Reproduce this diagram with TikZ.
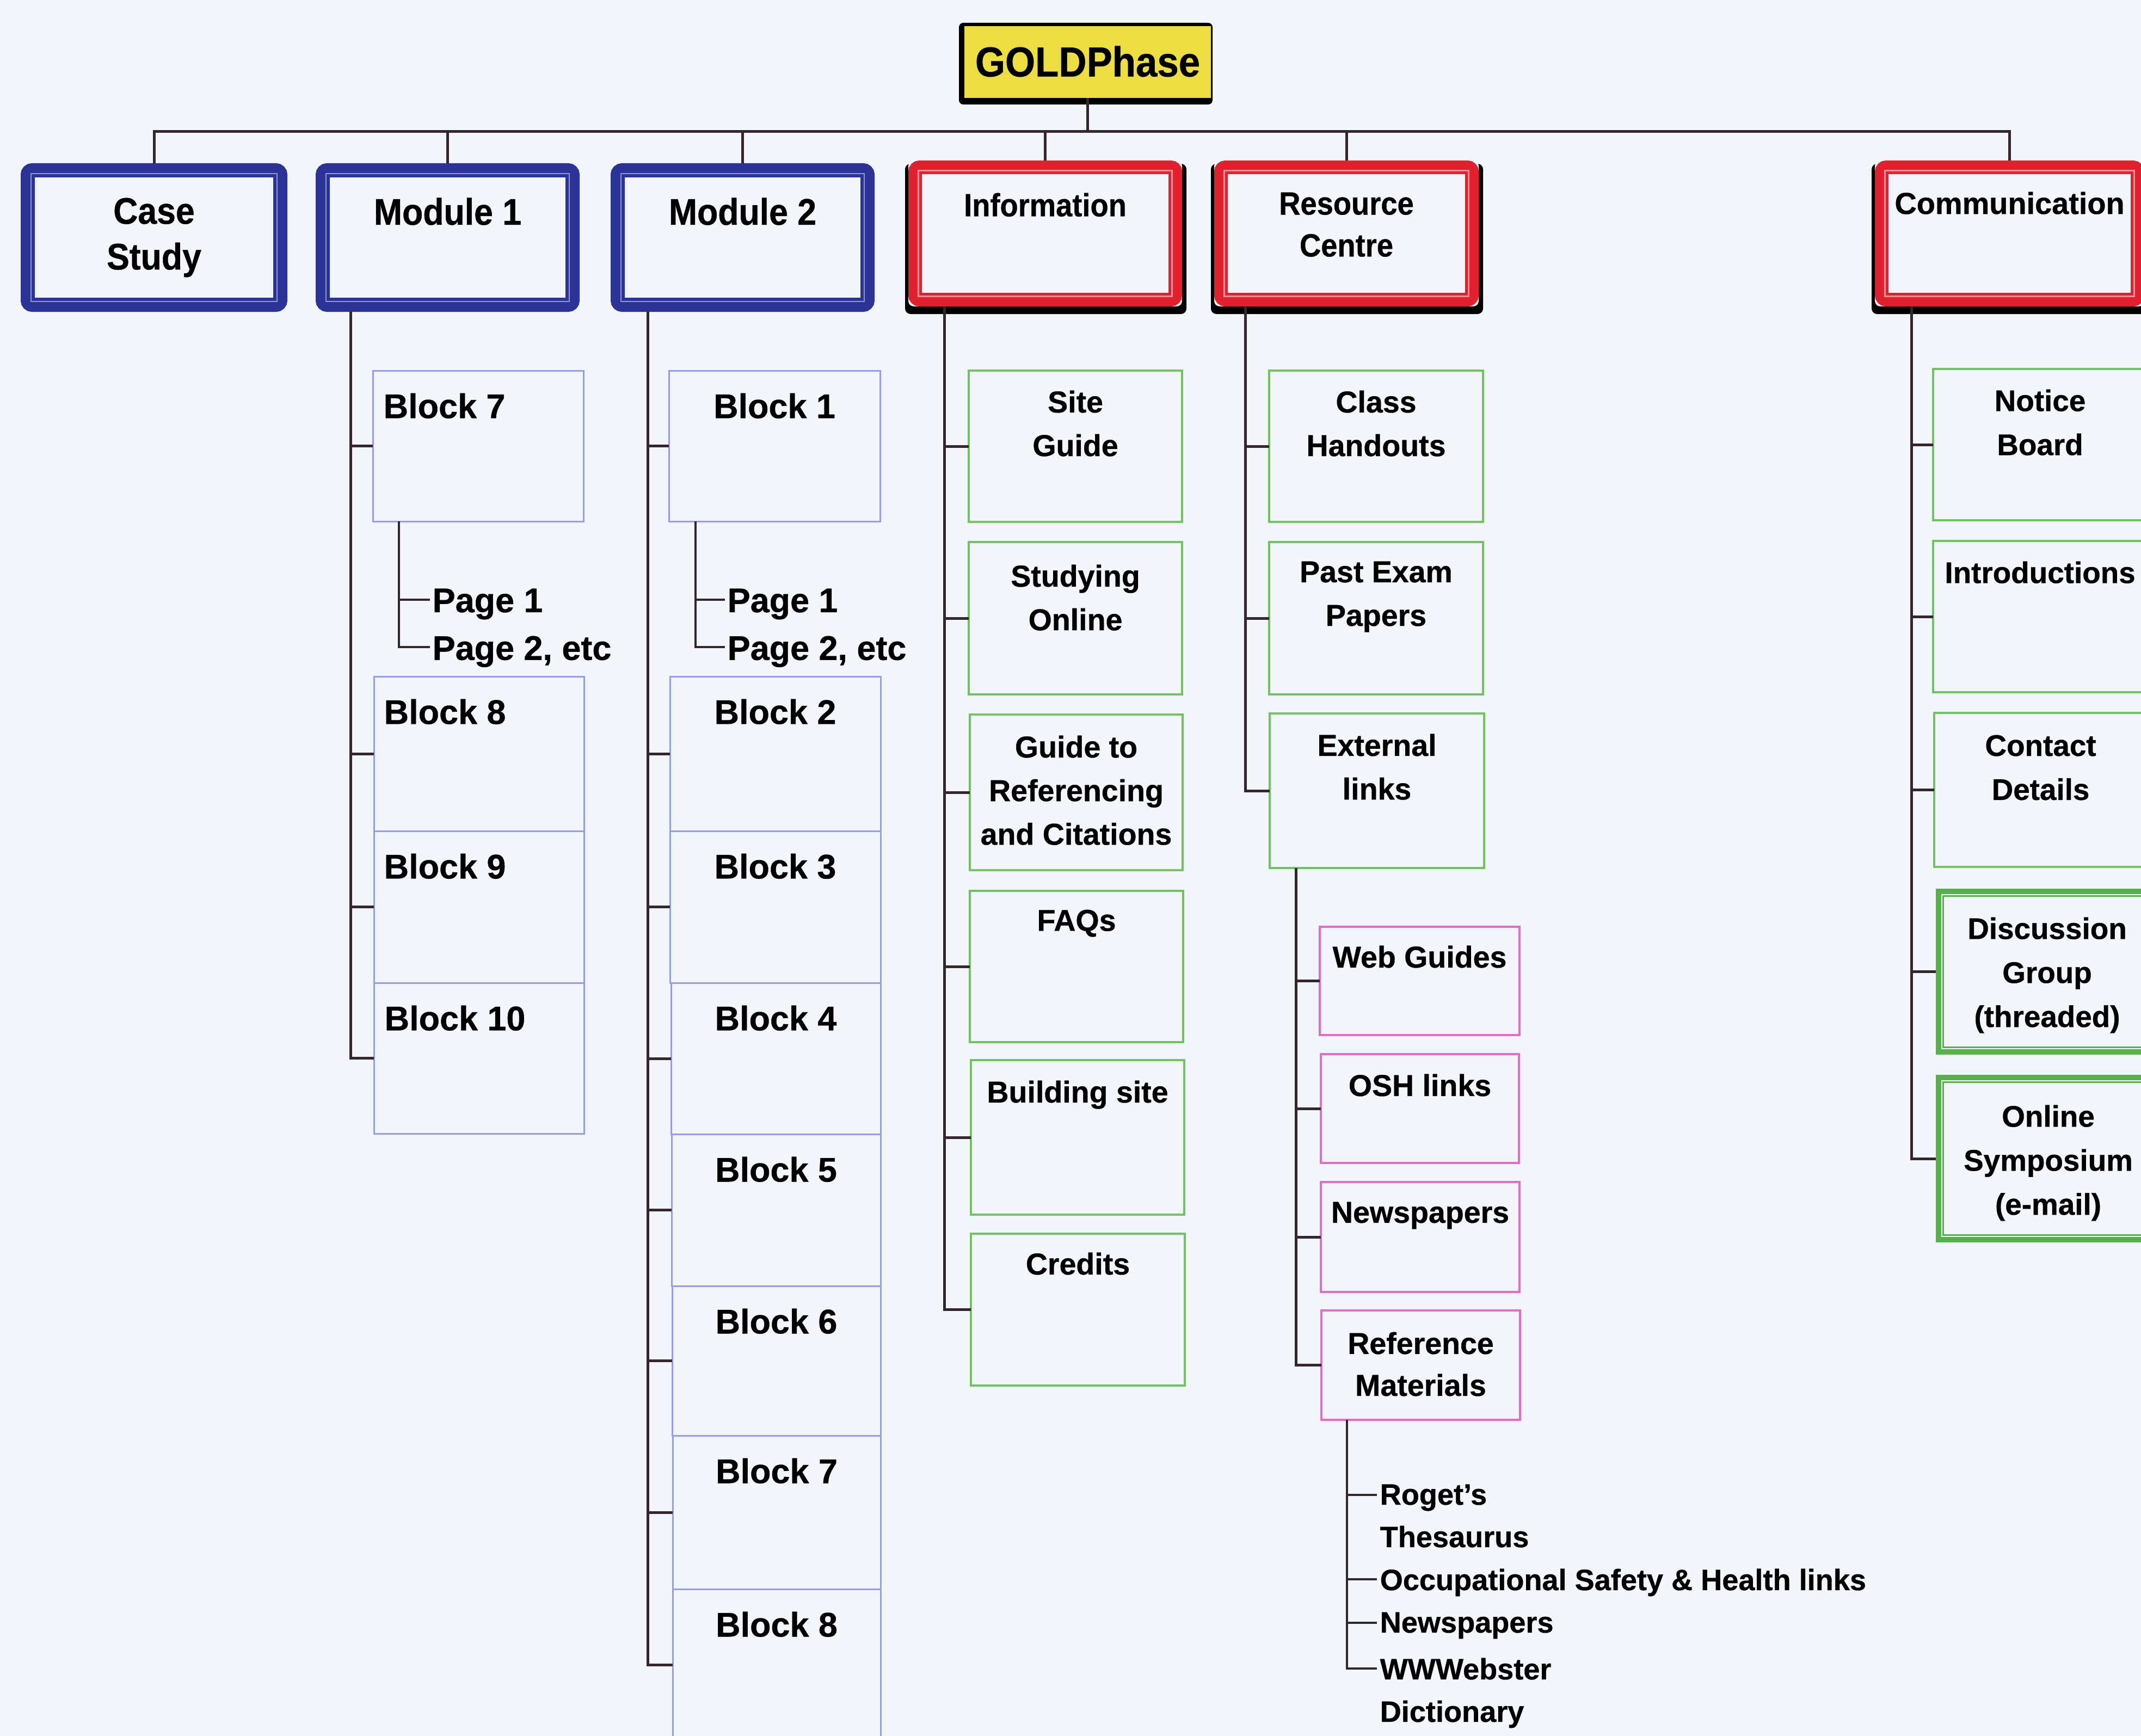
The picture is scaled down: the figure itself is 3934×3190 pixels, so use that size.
\documentclass[tikz,border=0pt]{standalone}
\usepackage{fontspec}
\setmainfont{Liberation Sans}[FakeBold=0.6]
\newfontfamily\narrowsans{Liberation Sans}[FakeStretch=0.92, FakeBold=0.6]
\usetikzlibrary{calc,fit}

\definecolor{paper}{RGB}{242,245,250}
\definecolor{linecol}{RGB}{52,38,46}
\definecolor{navyA}{RGB}{43,52,150}
\definecolor{navyGap}{RGB}{140,150,215}
\definecolor{redA}{RGB}{226,32,46}
\definecolor{redGap}{RGB}{242,140,150}
\definecolor{goldfill}{RGB}{236,222,64}
\definecolor{blockcol}{RGB}{150,156,234}
\definecolor{greencol}{RGB}{112,196,96}
\definecolor{greendark}{RGB}{84,178,72}
\definecolor{pinkcol}{RGB}{228,108,200}

% top-level module box: heavy navy frame with a thin light inner stripe
\newcommand{\navybox}[5]{%
  \node[fit={(#2,#3) (#4,#5)}, inner sep=0pt, outer sep=0pt] (#1) {};
  \draw[navyA, line width=2.6mm, rounded corners=0.8mm] (#2+13,#3+13) rectangle (#4-13,#5-13);
  \draw[navyGap, line width=0.22mm] (#2+19,#3+19) rectangle (#4-19,#5-19);
}
% top-level area box: heavy red frame with a black shadow
\newcommand{\redframe}[5]{%
  \fill[black, rounded corners=1mm] (#2-6,#3+6) rectangle (#4+8,#5+14);
  \node[fit={(#2,#3) (#4,#5)}, inner sep=0pt, outer sep=0pt, fill=paper, rounded corners=1mm] (#1) {};
  \draw[redA, line width=2.5mm, rounded corners=0.8mm] (#2+12.5,#3+12.5) rectangle (#4-12.5,#5-12.5);
  \draw[redGap, line width=0.22mm] (#2+18.5,#3+18.5) rectangle (#4-18.5,#5-18.5);
}
% interactive area: green double frame
\newcommand{\dblgreen}[5]{%
  \node[fit={(#2,#3) (#4,#5)}, inner sep=0pt, outer sep=0pt] (#1) {};
  \draw[greendark, line width=1mm] (#2+5,#3+5) rectangle (#4-5,#5-5);
  \draw[greendark, line width=0.35mm] (#2+13.5,#3+13.5) rectangle (#4-13.5,#5-13.5);
}

\tikzset{
  conn/.style={draw=linecol, line width=0.5mm},
  thinbox/.style={inner sep=0pt, outer sep=0pt},
  blockbox/.style={thinbox, draw=blockcol, line width=0.3mm},
  greenbox/.style={thinbox, draw=greencol, line width=0.35mm},
  pinkbox/.style={thinbox, draw=pinkcol, line width=0.35mm},
  goldtext/.style={inner sep=0pt, anchor=north, font=\narrowsans\bfseries\fontsize{21.9}{26}\selectfont},
  bluetext/.style={inner sep=0pt, anchor=north, align=center, font=\narrowsans\bfseries\fontsize{19.35}{23.9}\selectfont},
  redtext/.style={inner sep=0pt, anchor=north, align=center, font=\narrowsans\bfseries\fontsize{16.8}{21.9}\selectfont},
  commtop/.style={inner sep=0pt, anchor=north, font=\bfseries\fontsize{15.9}{21}\selectfont},
  blocktext/.style={inner sep=0pt, font=\bfseries\fontsize{17.9}{22}\selectfont},
  childtext/.style={inner sep=0pt, anchor=north, align=center, font=\bfseries\fontsize{15.8}{22.8}\selectfont},
  commtext/.style={inner sep=0pt, anchor=north, align=center, font=\bfseries\fontsize{15.6}{23}\selectfont},
  reftext/.style={inner sep=0pt, anchor=north west, align=left, font=\bfseries\fontsize{15.4}{22.2}\selectfont},
}

\begin{document}
\begin{tikzpicture}[x=0.1mm, y=-0.1mm]
\fill[paper] (0,0) rectangle (3934,3190);
\useasboundingbox (0,0) rectangle (3934,3190);

% ---------- root ----------
\fill[black, rounded corners=0.8mm] (1762,42) rectangle (2228,192);
\node[fit={(1772,48) (2225,180)}, inner sep=0pt, outer sep=0pt, fill=goldfill] (gold) {};
\node[goldtext] (gold-t) at ($(gold.north)+(0,36)$) {GOLDPhase};

% ---------- first level ----------
\navybox{case}{38}{300}{528}{573}
\navybox{mod1}{580}{300}{1065}{573}
\navybox{mod2}{1122}{300}{1607}{573}
\redframe{info}{1669}{295}{2172}{563}
\redframe{res}{2231}{295}{2717}{563}
\redframe{comm}{3445}{295}{3940}{563}

\node[bluetext] (case-t) at ($(case.north)+(0,63)$) {Case\\Study};
\node[bluetext] (mod1-t) at ($(mod1.north)+(0,63)$) {Module 1};
\node[bluetext] (mod2-t) at ($(mod2.north)+(0,63)$) {Module 2};
\node[redtext] (info-t) at ($(info.north)+(0,59)$) {Information};
\node[redtext] (res-t) at ($(res.north)+(0,58)$) {Resource\\Centre};
\node[commtop] (comm-t) at ($(comm.north)+(0,57)$) {Communication};

% bus from the root to the first level
\coordinate (bus) at (0,242);
\draw[conn] (gold.south) -- (gold.south |- bus);
\draw[conn] (case.north) -- (case.north |- bus) -- (comm.north |- bus) -- (comm.north);
\foreach \n in {mod1,mod2,info,res} \draw[conn] (\n.north) -- (\n.north |- bus);

% ---------- Module 1 ----------
\node[blockbox, fit={(685,681) (1072,958)}] (m1b7) {};
\node[blockbox, fit={(687,1243) (1073,1527)}] (m1b8) {};
\node[blockbox, fit={(687,1527) (1073,1806)}] (m1b9) {};
\node[blockbox, fit={(687,1806) (1073,2083)}] (m1b10) {};
\node[blocktext, anchor=north west] (m1b7-t) at ($(m1b7.north west)+(19,41)$) {Block 7};
\node[blocktext, anchor=north west] (m1b8-t) at ($(m1b8.north west)+(18,41)$) {Block 8};
\node[blocktext, anchor=north west] (m1b9-t) at ($(m1b9.north west)+(18,41)$) {Block 9};
\node[blocktext, anchor=north west] (m1b10-t) at ($(m1b10.north west)+(19,41)$) {Block 10};

\coordinate (m1x) at (644,0);
\draw[conn] (mod1.south -| m1x) |- (m1b10.west);
\foreach \n in {m1b7,m1b8,m1b9} \draw[conn] (\n.west -| m1x) -- (\n.west);

\node[blocktext, anchor=north west] (m1p1) at (794,1081) {Page 1};
\node[blocktext, anchor=north west] (m1p2) at (794,1168) {Page 2, etc};
\coordinate (m1px) at (733,0);
\coordinate (m1p1k) at ($(m1p1.north west)+(-4,21)$);
\coordinate (m1p2k) at ($(m1p2.north west)+(-4,21)$);
\draw[conn, line width=0.45mm] (m1b7.south -| m1px) |- (m1p2k);
\draw[conn, line width=0.45mm] (m1p1k -| m1px) -- (m1p1k);

% ---------- Module 2 ----------
\node[blockbox, fit={(1229,681) (1617,958)}] (m2b1) {};
\node[blockbox, fit={(1231,1243) (1618,1527)}] (m2b2) {};
\node[blockbox, fit={(1231,1527) (1618,1806)}] (m2b3) {};
\node[blockbox, fit={(1233,1806) (1618,2084)}] (m2b4) {};
\node[blockbox, fit={(1234,2084) (1618,2363)}] (m2b5) {};
\node[blockbox, fit={(1235,2363) (1618,2638)}] (m2b6) {};
\node[blockbox, fit={(1236,2638) (1618,2920)}] (m2b7) {};
\node[blockbox, fit={(1236,2920) (1618,3240)}] (m2b8) {};
\foreach \n/\t in {m2b1/1,m2b2/2,m2b3/3,m2b4/4,m2b5/5,m2b6/6,m2b7/7,m2b8/8}
  \node[blocktext, anchor=north] (\n-t) at ($(\n.north)+(0,41)$) {Block \t};

\coordinate (m2x) at (1190,0);
\draw[conn] (mod2.south -| m2x) |- ($(m2b8.north west)+(0,139)$);
\foreach \n in {m2b1,m2b2,m2b3,m2b4,m2b5,m2b6,m2b7} \draw[conn] (\n.west -| m2x) -- (\n.west);

\node[blocktext, anchor=north west] (m2p1) at (1336,1081) {Page 1};
\node[blocktext, anchor=north west] (m2p2) at (1336,1168) {Page 2, etc};
\coordinate (m2px) at (1278,0);
\coordinate (m2p1k) at ($(m2p1.north west)+(-4,21)$);
\coordinate (m2p2k) at ($(m2p2.north west)+(-4,21)$);
\draw[conn, line width=0.45mm] (m2b1.south -| m2px) |- (m2p2k);
\draw[conn, line width=0.45mm] (m2p1k -| m2px) -- (m2p1k);

% ---------- Information ----------
\node[greenbox, fit={(1780,681) (2172,959)}] (sg) {};
\node[greenbox, fit={(1780,996) (2172,1276)}] (so) {};
\node[greenbox, fit={(1782,1313) (2173,1599)}] (gr) {};
\node[greenbox, fit={(1782,1637) (2174,1915)}] (fq) {};
\node[greenbox, fit={(1784,1948) (2176,2232)}] (bs) {};
\node[greenbox, fit={(1784,2267) (2177,2546)}] (cr) {};
\node[childtext] (sg-t) at ($(sg.north)+(0,36)$) {Site\\Guide};
\node[childtext] (so-t) at ($(so.north)+(0,41)$) {Studying\\Online};
\node[childtext] (gr-t) at ($(gr.north)+(0,38)$) {Guide to\\Referencing\\and Citations};
\node[childtext] (fq-t) at ($(fq.north)+(0,34)$) {FAQs};
\node[childtext] (bs-t) at ($(bs.north)+(0,37)$) {Building site};
\node[childtext] (cr-t) at ($(cr.north)+(0,34)$) {Credits};

\coordinate (ix) at (1735,0);
\draw[conn] (info.south -| ix) |- (cr.west);
\foreach \n in {sg,so,gr,fq,bs} \draw[conn] (\n.west -| ix) -- (\n.west);

% ---------- Resource Centre ----------
\node[greenbox, fit={(2332,681) (2725,959)}] (ch) {};
\node[greenbox, fit={(2332,996) (2725,1276)}] (pe) {};
\node[greenbox, fit={(2333,1311) (2727,1595)}] (el) {};
\node[childtext] (ch-t) at ($(ch.north)+(0,36)$) {Class\\Handouts};
\node[childtext] (pe-t) at ($(pe.north)+(0,35)$) {Past Exam\\Papers};
\node[childtext] (el-t) at ($(el.north)+(0,37)$) {External\\links};

\coordinate (rx) at (2288,0);
\draw[conn] (res.south -| rx) |- (el.west);
\foreach \n in {ch,pe} \draw[conn] (\n.west -| rx) -- (\n.west);

% external links
\node[pinkbox, fit={(2425,1703) (2792,1902)}] (wg) {};
\node[pinkbox, fit={(2427,1937) (2791,2137)}] (osh) {};
\node[pinkbox, fit={(2427,2172) (2792,2374)}] (np) {};
\node[pinkbox, fit={(2428,2408) (2793,2609)}] (rm) {};
\node[childtext] (wg-t) at ($(wg.north)+(0,34)$) {Web Guides};
\node[childtext] (osh-t) at ($(osh.north)+(0,36)$) {OSH links};
\node[childtext] (np-t) at ($(np.north)+(0,36)$) {Newspapers};
\node[childtext, font=\bfseries\fontsize{15.8}{21.9}\selectfont] (rm-t) at ($(rm.north)+(0,39)$) {Reference\\Materials};

\coordinate (px) at (2381,0);
\draw[conn] (el.south -| px) |- (rm.west);
\foreach \n in {wg,osh,np} \draw[conn] (\n.west -| px) -- (\n.west);

% reference materials
\node[reftext] (rl1) at (2535,2727) {Roget's\\Thesaurus};
\node[reftext] (rl2) at (2535,2882) {Occupational Safety \& Health links};
\node[reftext] (rl3) at (2535,2962) {Newspapers};
\node[reftext] (rl4) at (2535,3046) {WWWebster\\Dictionary};
\coordinate (lx) at (2475,0);
\foreach \n in {rl1,rl2,rl3,rl4} \coordinate (\n k) at ($(\n.north west)+(-5,20)$);
\draw[conn, line width=0.45mm] (rm.south -| lx) |- (rl4k);
\foreach \n in {rl1,rl2,rl3} \draw[conn, line width=0.45mm] (\n k -| lx) -- (\n k);

% ---------- Communication ----------
\node[greenbox, fit={(3552,678) (3945,956)}] (nb) {};
\node[greenbox, fit={(3552,994) (3945,1272)}] (intro) {};
\node[greenbox, fit={(3554,1310) (3945,1593)}] (cd) {};
\dblgreen{dg}{3557}{1633}{3962}{1938}
\dblgreen{os}{3557}{1975}{3962}{2283}
\node[commtext] (nb-t) at ($(nb.north)+(0,37)$) {Notice\\Board};
\node[commtext] (intro-t) at ($(intro.north)+(0,37)$) {Introductions};
\node[commtext] (cd-t) at ($(cd.north)+(0,40)$) {Contact\\Details};
\node[commtext] (dg-t) at ($(dg.north)+(2,52)$) {Discussion\\Group\\(threaded)};
\node[commtext] (os-t) at ($(os.north)+(4,55)$) {Online\\Symposium\\(e-mail)};

\coordinate (cx) at (3512,0);
\draw[conn] (comm.south -| cx) |- (os.west);
\foreach \n in {nb,intro,cd,dg} \draw[conn] (\n.west -| cx) -- (\n.west);

\end{tikzpicture}
\end{document}
